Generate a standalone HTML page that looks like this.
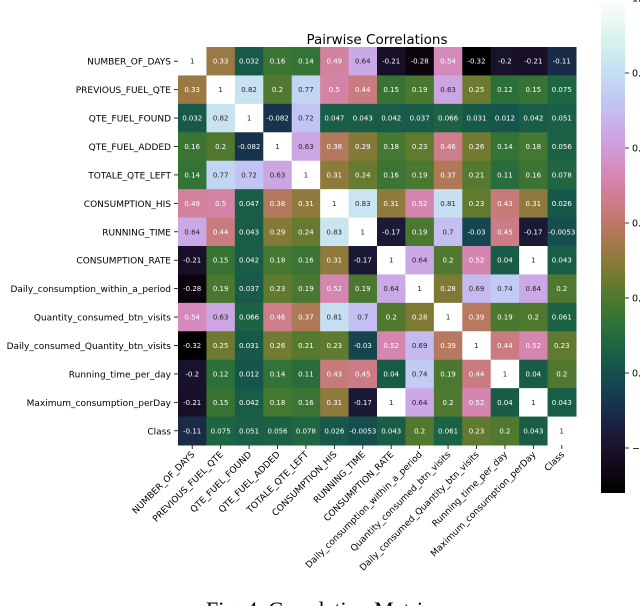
<!DOCTYPE html>
<html><head><meta charset="utf-8"><style>
body{margin:0;background:#fff;width:640px;height:606px;overflow:hidden}
svg{display:block}
</style></head><body>
<svg id="chart" width="640" height="606" xmlns="http://www.w3.org/2000/svg" font-family="DejaVu Sans, Liberation Sans, sans-serif">
<text x="377" y="44" font-size="13.5" text-anchor="middle">Pairwise Correlations</text>
<g id="cells"></g><g id="ylab"></g><g id="xlab"></g><g id="cbar"></g>
<text x="320" y="617" font-size="22" text-anchor="middle" font-family="Liberation Serif, serif">Fig. 4. Correlation Matrix</text>
</svg>
<script>
const labels=["NUMBER_OF_DAYS","PREVIOUS_FUEL_QTE","QTE_FUEL_FOUND","QTE_FUEL_ADDED","TOTALE_QTE_LEFT","CONSUMPTION_HIS","RUNNING_TIME","CONSUMPTION_RATE","Daily_consumption_within_a_period","Quantity_consumed_btn_visits","Daily_consumed_Quantity_btn_visits","Running_time_per_day","Maximum_consumption_perDay","Class"];
const row0=[1,0.33,0.032,0.16,0.14,0.49,0.64,-0.21,-0.28,0.54,-0.32,-0.2,-0.21,-0.11];
const row1=[0.33,1,0.82,0.2,0.77,0.5,0.44,0.15,0.19,0.63,0.25,0.12,0.15,0.075];
const row2=[0.032,0.82,1,-0.082,0.72,0.047,0.043,0.042,0.037,0.066,0.031,0.012,0.042,0.051];
const row3=[0.16,0.2,-0.082,1,0.63,0.38,0.29,0.18,0.23,0.46,0.26,0.14,0.18,0.056];
const row4=[0.14,0.77,0.72,0.63,1,0.31,0.24,0.16,0.19,0.37,0.21,0.11,0.16,0.078];
const row5=[0.49,0.5,0.047,0.38,0.31,1,0.83,0.31,0.52,0.81,0.23,0.43,0.31,0.026];
const row6=[0.64,0.44,0.043,0.29,0.24,0.83,1,-0.17,0.19,0.7,-0.03,0.45,-0.17,-0.0053];
const row7=[-0.21,0.15,0.042,0.18,0.16,0.31,-0.17,1,0.64,0.2,0.52,0.04,1,0.043];
const row8=[-0.28,0.19,0.037,0.23,0.19,0.52,0.19,0.64,1,0.28,0.69,0.74,0.64,0.2];
const row9=[0.54,0.63,0.066,0.46,0.37,0.81,0.7,0.2,0.28,1,0.39,0.19,0.2,0.061];
const row10=[-0.32,0.25,0.031,0.26,0.21,0.23,-0.03,0.52,0.69,0.39,1,0.44,0.52,0.23];
const row11=[-0.2,0.12,0.012,0.14,0.11,0.43,0.45,0.04,0.74,0.19,0.44,1,0.04,0.2];
const row12=[-0.21,0.15,0.042,0.18,0.16,0.31,-0.17,1,0.64,0.2,0.52,0.04,1,0.043];
const row13=[-0.11,0.075,0.051,0.056,0.078,0.026,-0.0053,0.043,0.2,0.061,0.23,0.2,0.043,1];
const matrix=[row0,row1,row2,row3,row4,row5,row6,row7,row8,row9,row10,row11,row12,row13];
const cbTicks=[-0.2,0,0.2,0.4,0.6,0.8,1.0];
const vmin=-0.32,vmax=1;

const NS="http://www.w3.org/2000/svg";
const X0=178,Y0=47,W=398,n=labels.length,cs=W/n;
const xPos=i=>X0+i*cs, yPos=i=>Y0+i*cs;
function cmap(v){
  let x=Math.max(0,Math.min(1,(v-vmin)/(vmax-vmin)));
  const a=x*(1-x)/2, phi=2*Math.PI*(0.5/3-1.5*x);
  const c=Math.cos(phi),s=Math.sin(phi);
  const r=x+a*(-0.14861*c+1.78277*s), g=x+a*(-0.29227*c-0.90649*s), b=x+a*(1.97294*c);
  return [r,g,b].map(t=>Math.max(0,Math.min(1,t)));
}
const hex=c=>"rgb("+c.map(t=>Math.round(t*255)).join(",")+")";
function lum(c){const f=t=>t<=0.03928?t/12.92:Math.pow((t+0.055)/1.055,2.4);return 0.2126*f(c[0])+0.7152*f(c[1])+0.0722*f(c[2]);}
function el(tag,attrs,parent){const e=document.createElementNS(NS,tag);for(const k in attrs)e.setAttribute(k,attrs[k]);parent.appendChild(e);return e;}

const gc=document.getElementById("cells");
matrix.forEach((row,i)=>row.forEach((v,j)=>{
  const col=cmap(v);
  const r=el("rect",{x:xPos(j),y:yPos(i),width:cs+0.5,height:cs+0.5,fill:hex(col)},gc);
  
  
  const t=el("text",{x:xPos(j)+cs/2,y:yPos(i)+cs/2+2.5,"font-size":7,"text-anchor":"middle",fill:lum(col)>0.408?"#262626":"#fff"},gc);
  
  
  t.textContent=String(v);
}));
const gy=document.getElementById("ylab"),gx=document.getElementById("xlab");
labels.forEach((l,i)=>{
  const t=el("text",{x:X0-7,y:yPos(i)+cs/2+3.5,"font-size":9,"text-anchor":"end"},gy);
  
  
  t.textContent=l;
  el("line",{x1:X0-4,x2:X0,y1:yPos(i)+cs/2,y2:yPos(i)+cs/2,stroke:"#000","stroke-width":0.8},gy);
  const cx=xPos(i)+cs/2;
  el("line",{x1:cx,x2:cx,y1:Y0+W,y2:Y0+W+4,stroke:"#000","stroke-width":0.8},gx);
  const tx=el("text",{x:cx+3,y:Y0+W+10,"font-size":9,"text-anchor":"end",transform:`rotate(-45 ${cx+3} ${Y0+W+10})`},gx);
  
  
  tx.textContent=l;
});
const gb=document.getElementById("cbar");
const CBX=601,CBW=24,cy=v=>373-375*v;
const defs=el("defs",{},gb);
const grad=el("linearGradient",{id:"cbg",x1:0,y1:1,x2:0,y2:0},defs);
for(let k=0;k<=40;k++){const v=vmin+(vmax-vmin)*k/40;el("stop",{offset:k/40,"stop-color":hex(cmap(v))},grad);}
const cb=el("rect",{x:CBX,y:cy(vmax),width:CBW,height:cy(vmin)-cy(vmax),fill:"url(#cbg)"},gb);


cbTicks.forEach(v=>{
  el("line",{x1:CBX+CBW,x2:CBX+CBW+4,y1:cy(v),y2:cy(v),stroke:"#000","stroke-width":0.8},gb);
  const t=el("text",{x:CBX+CBW+7,y:cy(v)+3.5,"font-size":9.5},gb);
  
  
  t.textContent=v.toFixed(1).replace("-","−");
});
</script>
</body></html>
